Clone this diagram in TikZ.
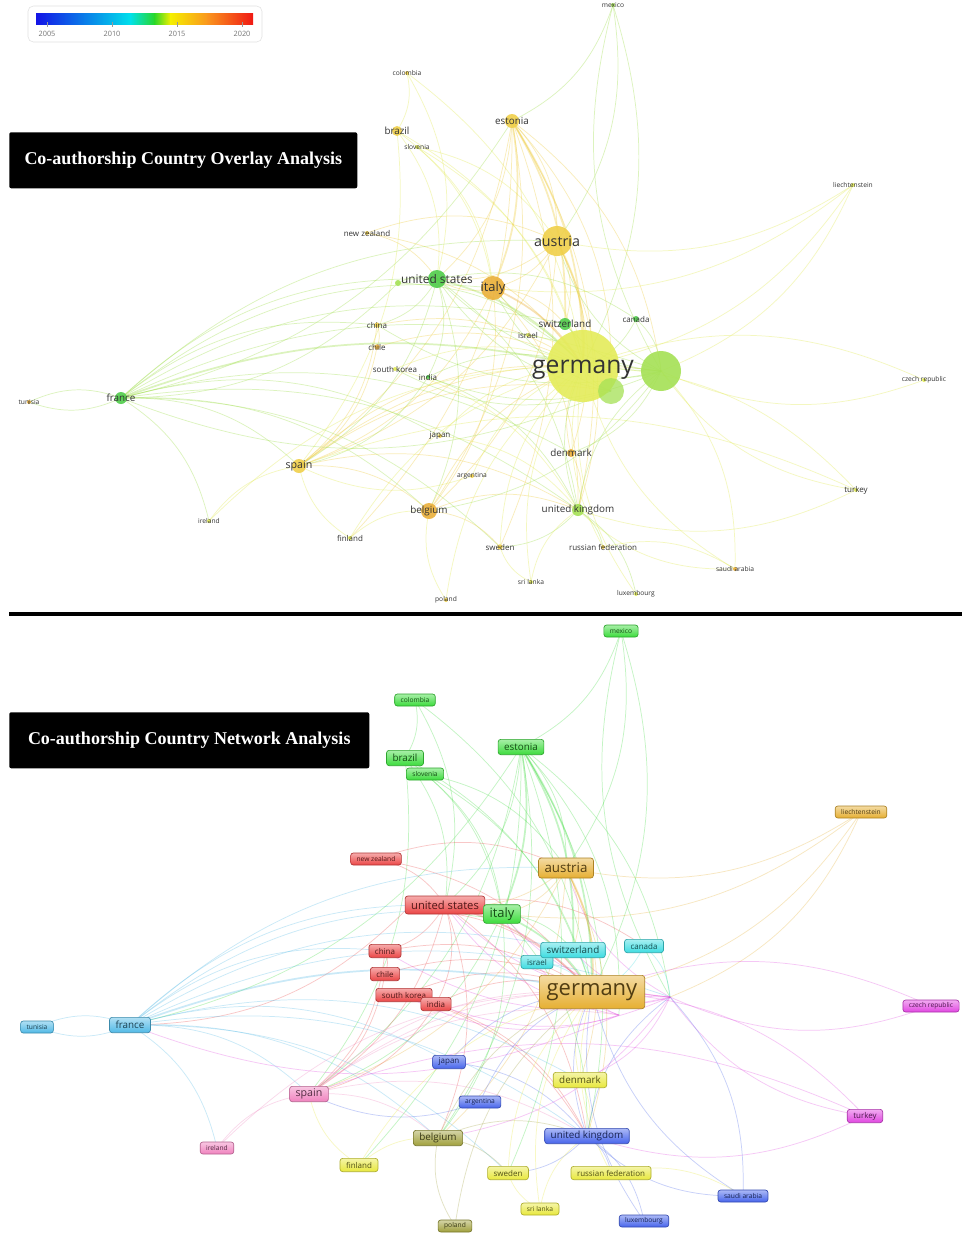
\documentclass[tikz,border=0pt]{standalone}
\usepackage{fontspec}
\setmainfont{Liberation Serif}
\newfontfamily\vosfont{Open Sans}
\usepackage{xcolor}
\usepackage{tikz}

\pgfdeclarelayer{background}
\pgfsetlayers{background,main}

% overlay (year) colours
\definecolor{ovgreen}{RGB}{80,205,75}
\definecolor{ovlime}{RGB}{165,225,85}
\definecolor{ovyellow}{RGB}{228,236,90}
\definecolor{ovgold}{RGB}{240,208,75}
\definecolor{ovorange}{RGB}{235,176,58}
% cluster colours
\definecolor{clgreen}{RGB}{60,220,60}
\definecolor{clorange}{RGB}{230,175,50}
\definecolor{clred}{RGB}{235,70,70}
\definecolor{clcyan}{RGB}{60,220,225}
\definecolor{clsky}{RGB}{80,185,230}
\definecolor{clblue}{RGB}{70,100,235}
\definecolor{clpink}{RGB}{240,130,190}
\definecolor{clyellow}{RGB}{232,232,60}
\definecolor{clolive}{RGB}{160,160,60}
\definecolor{clmagenta}{RGB}{225,70,225}
% legend scale
\definecolor{scblue}{RGB}{20,20,230}
\definecolor{sccyan}{RGB}{0,225,235}
\definecolor{scgreen}{RGB}{40,215,40}
\definecolor{scyellow}{RGB}{245,240,0}
\definecolor{scorange}{RGB}{250,150,30}
\definecolor{scred}{RGB}{240,25,20}

\tikzset{
  tinyfont/.style={font=\vosfont\fontsize{5}{6}\selectfont},
  smallfont/.style={font=\vosfont\fontsize{6}{7}\selectfont},
  midfont/.style={font=\vosfont\fontsize{7.4}{8.5}\selectfont},
  tdot/.style 2 args={circle, inner sep=0pt, fill=#1, fill opacity=.9, minimum size=#2},
  toplabel/.style={text=black!80, inner sep=0pt, text opacity=1},
  bx/.style={rounded corners=2pt, draw=#1!75!black, line width=.5pt,
    top color=#1!45!white, bottom color=#1, text=#1!35!black,
    inner xsep=4.5pt, inner ysep=1pt},
  tinybox/.style={bx=#1, tinyfont, minimum height=9pt},
  smallbox/.style={bx=#1, smallfont, minimum height=10pt},
  midbox/.style={bx=#1, midfont, minimum height=11.5pt},
  titlebox/.style={fill=black, text=white, rounded corners=1.5pt,
    font=\bfseries\fontsize{13.5}{15}\selectfont, anchor=north west},
  legendlabel/.style={text=black!55, font=\vosfont\fontsize{5.5}{6}\selectfont, inner sep=0pt},
  overlayedge/.style={draw=#1, line width=.55pt, draw opacity=.38},
  clusteredge/.style={draw=#1, line width=.55pt, draw opacity=.3},
}

\begin{document}
\begin{tikzpicture}[x=0.75pt,y=-0.75pt]
  \useasboundingbox (0,0) rectangle (962,1233);
  \begin{pgfonlayer}{background}
    \fill[white] (0,0) rectangle (962,1233);
  \end{pgfonlayer}

  % legend
  \draw[rounded corners=4pt, draw=black!12, fill=white] (28,6) rectangle (262,42);
  \shade[left color=scblue, right color=sccyan] (36,13) rectangle (131,24);
  \shade[left color=sccyan, right color=scgreen] (130,13) rectangle (155,24);
  \shade[left color=scgreen, right color=scyellow] (154,13) rectangle (171,24);
  \shade[left color=scyellow, right color=scorange] (170,13) rectangle (208,24);
  \shade[left color=scorange, right color=scred] (207,13) rectangle (253,24);
  \node[legendlabel] (yr2005) at (47,34) {2005};
  \node[legendlabel] (yr2010) at (112,34) {2010};
  \node[legendlabel] (yr2015) at (177,34) {2015};
  \node[legendlabel] (yr2020) at (242,34) {2020};
  \draw[black!40, line width=.3pt] (47,22) -- (47,27) (112,22) -- (112,27)
    (177,22) -- (177,27) (242,22) -- (242,27);

  % titles and separator
  \node[titlebox, minimum width=261pt, minimum height=42pt] (overlay-title) at (9,132)
    {Co-authorship Country Overlay Analysis};
  \node[titlebox, minimum width=270pt, minimum height=42pt] (network-title) at (9,712)
    {Co-authorship Country Network Analysis};
  \draw[line width=3pt] (9,614) -- (962,614);

  % overlay panel
  \node[tdot={ovlime}{3pt}, label={[toplabel, tinyfont]center:mexico}] (t-mexico) at (613,5) {};
  \node[tdot={ovgold}{3pt}, label={[toplabel, tinyfont]center:colombia}] (t-colombia) at (407,73) {};
  \node[tdot={ovgold}{7.5pt}, label={[toplabel, midfont]center:brazil}] (t-brazil) at (397,131) {};
  \node[tdot={ovyellow}{3pt}, label={[toplabel, tinyfont]center:slovenia}] (t-slovenia) at (417,147) {};
  \node[tdot={ovgold}{10.5pt}, label={[toplabel, midfont]center:estonia}] (t-estonia) at (512,121) {};
  \node[tdot={ovyellow}{3pt}, label={[toplabel, tinyfont]center:liechtenstein}] (t-liechtenstein) at (853,185) {};
  \node[tdot={ovgold}{3pt}, label={[toplabel, smallfont]center:new zealand}] (t-newzealand) at (367,233) {};
  \node[tdot={ovgold}{22.5pt}, label={[toplabel, font=\vosfont\fontsize{10.7}{12}\selectfont]center:austria}] (t-austria) at (557,241) {};
  \node[tdot={ovlime}{4.5pt}] (t-usdot) at (398,283) {};
  \node[tdot={ovgreen}{13.5pt}, label={[toplabel, font=\vosfont\fontsize{8.9}{10}\selectfont]center:united states}] (t-unitedstates) at (437,279) {};
  \node[tdot={ovorange}{18pt}, label={[toplabel, font=\vosfont\fontsize{9.7}{11}\selectfont]center:italy}] (t-italy) at (493,288) {};
  \node[tdot={ovgold}{4pt}, label={[toplabel, smallfont]center:china}] (t-china) at (377,325) {};
  \node[tdot={ovorange}{4pt}, label={[toplabel, smallfont]center:chile}] (t-chile) at (377,347) {};
  \node[tdot={ovyellow}{3pt}, label={[toplabel, smallfont]center:south korea}] (t-southkorea) at (395,369) {};
  \node[tdot={ovgreen}{3pt}, label={[toplabel, smallfont]center:india}] (t-india) at (428,377) {};
  \node[tdot={ovgreen}{9pt}, label={[toplabel, midfont]center:switzerland}] (t-switzerland) at (565,324) {};
  \node[tdot={ovyellow}{3pt}, label={[toplabel, smallfont]center:israel}] (t-israel) at (528,335) {};
  \node[tdot={ovgreen}{4.5pt}, label={[toplabel, smallfont]center:canada}] (t-canada) at (636,319) {};
  \node[tdot={ovlime}{30pt}] (t-hubA) at (661,371) {};
  \node[tdot={ovyellow}{54pt}, label={[toplabel, yshift=-3pt, font=\vosfont\fontsize{18.5}{20}\selectfont]center:germany}] (t-germany) at (583,366) {};
  \node[tdot={ovlime}{19.5pt}, fill opacity=.75] (t-hubB) at (611,391) {};
  \node[tdot={ovyellow}{3pt}, label={[toplabel, tinyfont]center:czech republic}] (t-czech) at (924,380) {};
  \node[tdot={ovorange}{3pt}, label={[toplabel, tinyfont]center:tunisia}] (t-tunisia) at (29,402) {};
  \node[tdot={ovgreen}{9pt}, label={[toplabel, midfont]center:france}] (t-france) at (121,398) {};
  \node[tdot={ovgold}{3pt}, label={[toplabel, smallfont]center:japan}] (t-japan) at (440,436) {};
  \node[tdot={ovgold}{10.5pt}, label={[toplabel, font=\vosfont\fontsize{8}{9}\selectfont]center:spain}] (t-spain) at (299,466) {};
  \node[tdot={ovgold}{3pt}, label={[toplabel, tinyfont]center:argentina}] (t-argentina) at (472,476) {};
  \node[tdot={ovorange}{6pt}, label={[toplabel, midfont]center:denmark}] (t-denmark) at (571,453) {};
  \node[tdot={ovyellow}{3pt}, label={[toplabel, smallfont]center:turkey}] (t-turkey) at (856,490) {};
  \node[tdot={ovyellow}{3pt}, label={[toplabel, tinyfont]center:ireland}] (t-ireland) at (209,521) {};
  \node[tdot={ovorange}{12pt}, label={[toplabel, midfont]center:belgium}] (t-belgium) at (429,511) {};
  \node[tdot={ovlime}{9pt}, label={[toplabel, midfont]center:united kingdom}] (t-uk) at (578,510) {};
  \node[tdot={ovyellow}{3pt}, label={[toplabel, smallfont]center:finland}] (t-finland) at (350,538) {};
  \node[tdot={ovgold}{4pt}, label={[toplabel, smallfont]center:sweden}] (t-sweden) at (500,547) {};
  \node[tdot={ovgold}{3pt}, label={[toplabel, smallfont]center:russian federation}] (t-russia) at (603,547) {};
  \node[tdot={ovorange}{3pt}, label={[toplabel, tinyfont]center:saudi arabia}] (t-saudi) at (735,569) {};
  \node[tdot={ovyellow}{3pt}, label={[toplabel, tinyfont]center:sri lanka}] (t-srilanka) at (531,582) {};
  \node[tdot={ovyellow}{3pt}, label={[toplabel, tinyfont]center:luxembourg}] (t-luxembourg) at (636,594) {};
  \node[tdot={ovgold}{3pt}, label={[toplabel, tinyfont]center:poland}] (t-poland) at (446,600) {};

  % network panel
  \node[tinybox=clgreen] (b-mexico) at (621,631) {mexico};
  \node[tinybox=clgreen] (b-colombia) at (415,700) {colombia};
  \node[midbox=clgreen] (b-brazil) at (405,758) {brazil};
  \node[tinybox=clgreen] (b-slovenia) at (425,774) {slovenia};
  \node[midbox=clgreen] (b-estonia) at (521,747) {estonia};
  \node[tinybox=clorange] (b-liechtenstein) at (861,812) {liechtenstein};
  \node[tinybox=clred] (b-newzealand) at (376,859) {new zealand};
  \node[bx=clorange, font=\vosfont\fontsize{10}{12}\selectfont, minimum height=15pt] (b-austria) at (566,868) {austria};
  \coordinate (b-usdot) at (407,909);
  \node[bx=clred, font=\vosfont\fontsize{8.4}{10}\selectfont, minimum height=13.5pt] (b-unitedstates) at (445,905) {united states};
  \node[bx=clgreen, font=\vosfont\fontsize{9.7}{11}\selectfont, minimum height=14pt] (b-italy) at (502,914) {italy};
  \node[smallbox=clred] (b-china) at (385,951) {china};
  \node[smallbox=clred] (b-chile) at (385,974) {chile};
  \node[smallbox=clred] (b-southkorea) at (404,995) {south korea};
  \node[smallbox=clred] (b-india) at (436,1004) {india};
  \node[smallbox=clcyan] (b-israel) at (537,962) {israel};
  \node[midbox=clcyan] (b-switzerland) at (573,950) {switzerland};
  \node[smallbox=clcyan] (b-canada) at (644,946) {canada};
  \node[bx=clorange, font=\vosfont\fontsize{16.5}{18}\selectfont, minimum height=25pt, inner xsep=5.5pt] (b-germany) at (592,992) {germany};
  \coordinate (b-hubA) at (670,997);
  \coordinate (b-hubB) at (619,1015);
  \node[tinybox=clmagenta] (b-czech) at (931,1006) {czech republic};
  \node[tinybox=clsky] (b-tunisia) at (37,1027) {tunisia};
  \node[midbox=clsky] (b-france) at (130,1025) {france};
  \node[smallbox=clblue] (b-japan) at (449,1062) {japan};
  \node[midbox=clpink, font=\vosfont\fontsize{8}{9}\selectfont] (b-spain) at (309,1094) {spain};
  \node[tinybox=clblue] (b-argentina) at (480,1102) {argentina};
  \node[midbox=clyellow] (b-denmark) at (580,1080) {denmark};
  \node[smallbox=clmagenta] (b-turkey) at (865,1116) {turkey};
  \node[tinybox=clpink] (b-ireland) at (217,1148) {ireland};
  \node[midbox=clolive] (b-belgium) at (438,1138) {belgium};
  \node[midbox=clblue] (b-uk) at (587,1136) {united kingdom};
  \node[smallbox=clyellow] (b-finland) at (359,1165) {finland};
  \node[smallbox=clyellow] (b-sweden) at (508,1173) {sweden};
  \node[smallbox=clyellow] (b-russia) at (611,1173) {russian federation};
  \node[tinybox=clblue] (b-saudi) at (743,1196) {saudi arabia};
  \node[tinybox=clyellow] (b-srilanka) at (540,1209) {sri lanka};
  \node[tinybox=clblue] (b-luxembourg) at (644,1221) {luxembourg};
  \node[tinybox=clolive] (b-poland) at (455,1226) {poland};

  % links, same pairs in both panels
  \begin{pgfonlayer}{background}
  \foreach \a/\b/\oc/\cc in {
      mexico/estonia/ovlime/clgreen, mexico/austria/ovlime/clgreen,
      mexico/germany/ovlime/clgreen, hubA/mexico/ovlime/clgreen,
      colombia/brazil/ovyellow/clgreen, colombia/germany/ovyellow/clgreen,
      colombia/unitedstates/ovyellow/clgreen, brazil/germany/ovyellow/clgreen,
      brazil/unitedstates/ovyellow/clgreen, brazil/spain/ovyellow/clgreen,
      brazil/italy/ovyellow/clgreen, slovenia/germany/ovyellow/clgreen,
      slovenia/austria/ovyellow/clgreen, slovenia/italy/ovyellow/clgreen,
      estonia/austria/ovgold/clgreen, estonia/unitedstates/ovgold/clgreen,
      estonia/spain/ovgold/clgreen, estonia/belgium/ovgold/clgreen,
      estonia/uk/ovgold/clgreen, estonia/france/ovlime/clgreen,
      estonia/finland/ovgold/clgreen, estonia/sweden/ovgold/clgreen,
      estonia/hubB/ovgold/clgreen, estonia/hubA/ovgold/clgreen,
      liechtenstein/austria/ovyellow/clorange, liechtenstein/germany/ovyellow/clorange,
      liechtenstein/hubA/ovyellow/clorange, liechtenstein/italy/ovyellow/clorange,
      newzealand/germany/ovgold/clred, newzealand/unitedstates/ovgold/clred,
      newzealand/austria/ovgold/clred, austria/italy/ovgold/clorange,
      austria/switzerland/ovgold/clorange, austria/spain/ovgold/clorange,
      austria/uk/ovgold/clorange, austria/belgium/ovgold/clorange,
      austria/unitedstates/ovgold/clorange, austria/denmark/ovgold/clorange,
      italy/unitedstates/ovgold/clgreen, italy/spain/ovgold/clgreen,
      italy/belgium/ovgold/clgreen, italy/uk/ovgold/clgreen,
      italy/switzerland/ovgold/clgreen, unitedstates/china/ovlime/clred,
      unitedstates/spain/ovlime/clred, unitedstates/uk/ovlime/clred,
      unitedstates/canada/ovlime/clred, unitedstates/belgium/ovlime/clred,
      unitedstates/india/ovlime/clred, usdot/unitedstates/ovlime/clred,
      usdot/germany/ovlime/clred, usdot/france/ovlime/clred,
      china/germany/ovgold/clred, china/chile/ovgold/clred,
      china/spain/ovgold/clred, chile/spain/ovgold/clred,
      chile/germany/ovgold/clred, southkorea/germany/ovyellow/clred,
      southkorea/uk/ovyellow/clred, india/germany/ovlime/clred,
      india/uk/ovlime/clred, india/spain/ovlime/clred,
      switzerland/germany/ovlime/clcyan, israel/germany/ovyellow/clcyan,
      canada/germany/ovlime/clcyan, canada/hubA/ovlime/clcyan,
      tunisia/france/ovlime/clsky, france/tunisia/ovlime/clsky,
      france/austria/ovlime/clsky, france/italy/ovlime/clsky,
      france/unitedstates/ovlime/clsky, france/spain/ovlime/clsky,
      france/belgium/ovlime/clsky, france/uk/ovlime/clsky,
      france/china/ovlime/clsky, france/hubA/ovlime/clsky,
      france/switzerland/ovlime/clsky, france/japan/ovlime/clsky,
      france/denmark/ovlime/clsky, france/sweden/ovlime/clsky,
      france/ireland/ovlime/clsky, czech/hubA/ovyellow/clmagenta,
      germany/czech/ovyellow/clmagenta, turkey/hubA/ovyellow/clmagenta,
      germany/turkey/ovyellow/clmagenta, turkey/uk/ovyellow/clmagenta,
      spain/turkey/ovyellow/clmagenta, japan/germany/ovyellow/clblue,
      japan/uk/ovyellow/clblue, argentina/germany/ovyellow/clblue,
      argentina/spain/ovyellow/clblue, denmark/germany/ovgold/clyellow,
      denmark/uk/ovgold/clyellow, spain/germany/ovgold/clpink,
      spain/belgium/ovgold/clpink, spain/uk/ovgold/clpink,
      spain/hubA/ovgold/clpink, spain/hubB/ovgold/clpink,
      ireland/spain/ovyellow/clpink, ireland/germany/ovyellow/clpink,
      finland/spain/ovyellow/clyellow, finland/germany/ovyellow/clyellow,
      finland/belgium/ovyellow/clyellow, belgium/germany/ovgold/clolive,
      belgium/uk/ovgold/clolive, belgium/sweden/ovgold/clolive,
      poland/belgium/ovyellow/clolive, poland/germany/ovyellow/clolive,
      uk/germany/ovlime/clblue, uk/hubA/ovlime/clblue,
      uk/russia/ovlime/clblue, uk/sweden/ovlime/clblue,
      uk/luxembourg/ovlime/clblue, saudi/germany/ovyellow/clblue,
      saudi/uk/ovyellow/clblue, hubA/saudi/ovyellow/clblue,
      luxembourg/germany/ovyellow/clblue, srilanka/germany/ovyellow/clyellow,
      srilanka/uk/ovyellow/clyellow, srilanka/sweden/ovyellow/clyellow,
      russia/germany/ovyellow/clyellow, russia/saudi/ovyellow/clyellow,
      sweden/germany/ovyellow/clyellow, hubA/germany/ovlime/clmagenta,
      hubA/austria/ovlime/clmagenta, hubA/italy/ovlime/clmagenta,
      hubA/unitedstates/ovlime/clmagenta, hubA/china/ovlime/clmagenta,
      hubA/belgium/ovlime/clmagenta, hubA/switzerland/ovlime/clmagenta,
      hubA/denmark/ovlime/clmagenta, hubA/india/ovlime/clmagenta,
      hubB/germany/ovlime/clmagenta, hubB/italy/ovlime/clmagenta,
      hubB/france/ovlime/clmagenta, hubB/unitedstates/ovlime/clmagenta,
      hubB/southkorea/ovlime/clmagenta} {
    \draw[overlayedge=\oc] (t-\a.center) to[bend left=22] (t-\b.center);
    \draw[clusteredge=\cc] (b-\a.center) to[bend left=22] (b-\b.center);
  }
  % strong links
  \foreach \a/\b/\oc/\cc in {
      estonia/germany/ovgold/clgreen, estonia/italy/ovgold/clgreen,
      estonia/switzerland/ovgold/clgreen, austria/germany/ovgold/clorange,
      italy/germany/ovorange/clgreen, unitedstates/germany/ovlime/clred,
      france/germany/ovlime/clsky} {
    \draw[overlayedge=\oc, line width=1.3pt] (t-\a.center) to[bend left=16] (t-\b.center);
    \draw[clusteredge=\cc, line width=1.3pt] (b-\a.center) to[bend left=16] (b-\b.center);
  }
  \end{pgfonlayer}
\end{tikzpicture}
\end{document}
